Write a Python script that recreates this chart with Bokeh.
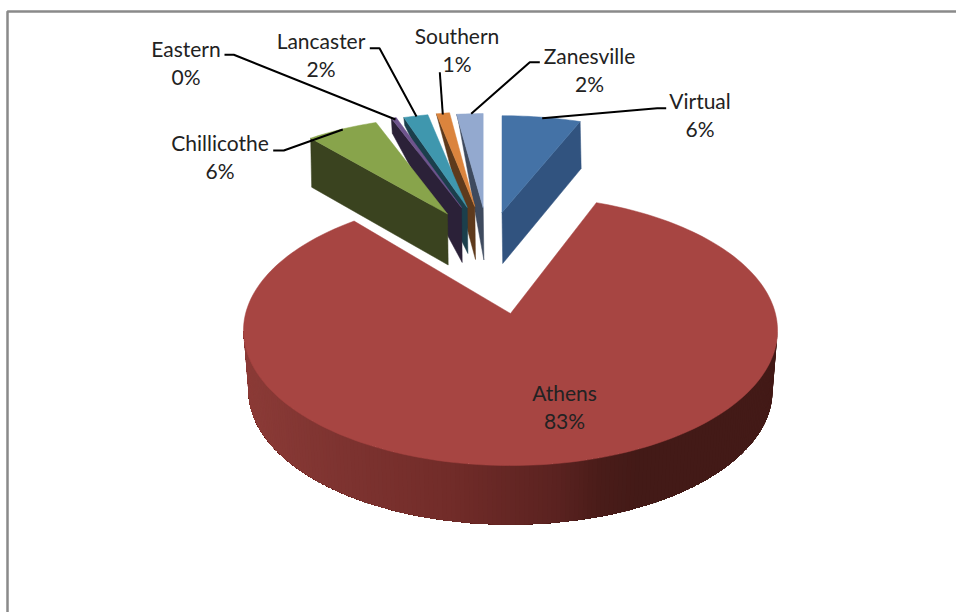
import math

from bokeh.core.properties import value
from bokeh.embed import file_html
from bokeh.models import ColumnDataSource
from bokeh.plotting import figure
from bokeh.resources import INLINE

# Enrolment share by campus, in clockwise order from twelve o'clock.
campuses = ["Virtual", "Athens", "Chillicothe", "Eastern", "Lancaster", "Southern", "Zanesville"]
shares = [5.9, 82.9, 5.6, 0.4, 2.0, 1.1, 2.1]

top_colors = ["#4472A6", "#A74542", "#88A44B", "#6E548D", "#3F97AE", "#DB843D", "#93A9CF"]
side_colors = ["#31537F", "#6E2A27", "#3A431F", "#2B2138", "#1B3F4C", "#5E3A1C", "#3E4A5E"]

# Projection of the pie plane onto the page.
APEX_X, APEX_Y = 510.0, 313.0
RADIUS, FORESHORTEN, PERSPECTIVE = 264.9, 0.5017, 0.126

# Exploded wedges: apex position, x and y scale, apex depth, drop at the outer corner,
# and which radial cut is visible ("start" or "end").
EXPLODE = {
    "Virtual": (501.5, 212.0, 0.91, 0.82, 51, 47, "end"),
    "Chillicothe": (447.0, 213.5, 0.875, 0.82, 51, 49, "start"),
    "Eastern": (461.0, 207.0, 0.86, 0.80, 55, 15, "start"),
    "Lancaster": (466.7, 207.0, 0.835, 0.80, 46, 8, "start"),
    "Southern": (474.3, 206.0, 0.815, 0.80, 53, 4, "start"),
    "Zanesville": (482.7, 207.5, 0.86, 0.80, 52, 2, "start"),
}

# Leader lines: label end, elbow, and the point where the line meets the wedge.
LEADERS = {
    "Virtual": ((665.7, 107.7), (656.7, 107.7), (541.7, 117.7)),
    "Chillicothe": ((272.7, 150.0), (283.3, 150.0), (342.3, 129.0)),
    "Eastern": ((224.0, 54.3), (233.3, 54.3), (395.0, 119.0)),
    "Lancaster": ((369.3, 47.7), (379.0, 47.7), (416.0, 116.0)),
    "Southern": ((439.3, 71.7), (439.3, 71.7), (442.3, 114.0)),
    "Zanesville": ((539.3, 61.7), (529.3, 61.7), (470.7, 113.3)),
}

# Label centres: x, y of the name, y of the percentage.
LABELS = {
    "Virtual": (699.5, 100, 128),
    "Athens": (564, 392, 420),
    "Chillicothe": (219.5, 142, 170),
    "Eastern": (185.5, 48, 76),
    "Lancaster": (320.5, 40, 68),
    "Southern": (456.5, 35, 63),
    "Zanesville": (589, 55, 83),
}

# Rim shading: page x against colour.
RIM_SHADE = [(243, (0x8C, 0x3B, 0x37)), (330, (0x7F, 0x34, 0x31)), (450, (0x72, 0x2C, 0x29)),
             (560, (0x5A, 0x22, 0x20)), (600, (0x4A, 0x1C, 0x19)), (640, (0x43, 0x1A, 0x17)),
             (778, (0x43, 0x1A, 0x17))]


def project(angle_deg, cx=APEX_X, cy=APEX_Y, sx=1.0, sy=1.0):
    t = math.radians(angle_deg)
    w = 1 + PERSPECTIVE * math.cos(t)
    return (cx + sx * RADIUS * math.sin(t) / w,
            cy - sy * RADIUS * FORESHORTEN * math.cos(t) / w)


def arc(start, end, **kw):
    steps = max(2, int((end - start) / 1.5) + 1)
    return [project(start + (end - start) * i / steps, **kw) for i in range(steps + 1)]


def rim_color(x):
    for (x0, c0), (x1, c1) in zip(RIM_SHADE, RIM_SHADE[1:]):
        if x <= x1:
            f = max(0.0, (x - x0) / (x1 - x0))
            return "#%02x%02x%02x" % tuple(round(a + (b - a) * f) for a, b in zip(c0, c1))
    return "#431a17"


p = figure(width=956, height=612, x_range=(0, 956), y_range=(612, 0), min_border=0,
           x_axis_type=None, y_axis_type=None, toolbar_location=None, output_backend="svg",
           background_fill_color="white", border_fill_color="white", outline_line_color=None)
p.grid.visible = False

# Chart frame: only the left and top edges fall inside the page.
p.line([7, 7, 956], [612, 11, 11], line_color="#8A8A8A", line_width=2.5)

# Wedge angles follow from the shares.
total = sum(shares)
spans = {}
angle = 0.0
for name, share in zip(campuses, shares):
    spans[name] = (angle, angle + 360.0 * share / total)
    angle = spans[name][1]

# Athens: the side rim is painted right to left in overlapping bands, so that no seams
# open between neighbouring shades; the top face follows.
a_start, a_end = spans["Athens"]
w = 1 - PERSPECTIVE ** 2
ELL_A = RADIUS / math.sqrt(w)
ELL_B = RADIUS * FORESHORTEN / w
ELL_CY = APEX_Y + RADIUS * FORESHORTEN * PERSPECTIVE / w
RIM_A, RIM_B, RIM_CY = ELL_A - 5, ELL_B - 1, ELL_CY + 60

bands = 180
rim_xs, rim_ys, rim_fill = [], [], []
for i in range(bands):
    fs = [math.pi * j / bands for j in range(i, bands + 1)]
    xs = [APEX_X + ELL_A * math.cos(f) for f in fs] + [APEX_X + RIM_A * math.cos(f) for f in reversed(fs)]
    ys = [ELL_CY + ELL_B * math.sin(f) for f in fs] + [RIM_CY + RIM_B * math.sin(f) for f in reversed(fs)]
    rim_xs.append(xs)
    rim_ys.append(ys)
    rim_fill.append(rim_color(APEX_X + (ELL_A + RIM_A) / 2 * math.cos(fs[0])))
p.patches(rim_xs, rim_ys, fill_color=rim_fill, line_color=None)

athens_pts = [(APEX_X, APEX_Y)] + arc(a_start, a_end)
athens_color = top_colors[campuses.index("Athens")]
p.patch([q[0] for q in athens_pts], [q[1] for q in athens_pts],
        fill_color=athens_color, line_color=athens_color, line_width=0.5)

# Exploded wedges, painted right to left so nearer cuts overlap their neighbours.
for name in ["Virtual", "Zanesville", "Southern", "Lancaster", "Eastern", "Chillicothe"]:
    idx = campuses.index(name)
    cx, cy, sx, sy, depth, drop, cut = EXPLODE[name]
    start, end = spans[name]
    outer = arc(start, end, cx=cx, cy=cy, sx=sx, sy=sy)
    corner = outer[0] if cut == "start" else outer[-1]
    face = [corner, (cx, cy), (cx + 0.7, cy + depth), (corner[0] + 1.0, corner[1] + drop)]
    p.patch([q[0] for q in face], [q[1] for q in face],
            fill_color=side_colors[idx], line_color=side_colors[idx], line_width=0.5)
    top = [(cx, cy)] + outer
    p.patch([q[0] for q in top], [q[1] for q in top],
            fill_color=top_colors[idx], line_color=top_colors[idx], line_width=0.5)

# Leader lines from the labels to their wedges.
for name, pts in LEADERS.items():
    p.line([q[0] for q in pts], [q[1] for q in pts], line_color="#000000", line_width=2)

# Labels: campus name above its rounded percentage.
label_src = ColumnDataSource(dict(
    x=[LABELS[n][0] for n in campuses],
    y_name=[LABELS[n][1] for n in campuses],
    y_pct=[LABELS[n][2] for n in campuses],
    name=campuses,
    pct=["%d%%" % round(s) for s in shares],
))
for col, ycol in (("name", "y_name"), ("pct", "y_pct")):
    p.text(x="x", y=ycol, text=col, source=label_src, text_font=value("Lato"),
           text_font_size="21px", text_color="#222222", text_align="center",
           text_baseline="middle")

open("out.html", "w").write(file_html(p, INLINE))
